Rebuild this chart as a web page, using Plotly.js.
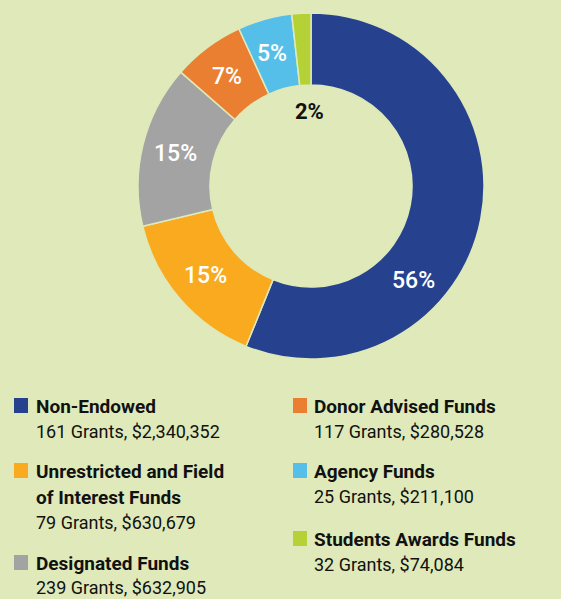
<!DOCTYPE html>
<html>
<head>
<meta charset="utf-8">
<script src="https://cdn.plot.ly/plotly-3.0.1.min.js"></script>
<style>
  html, body { margin: 0; padding: 0; background: #dfe9b9; }
  #chart { width: 561px; height: 599px; }
</style>
</head>
<body>
<div id="chart"></div>
<script>
const categories = ['Non-Endowed', 'Unrestricted and Field of Interest Funds', 'Designated Funds', 'Donor Advised Funds', 'Agency Funds', 'Students Awards Funds'];
const legendTitleLines = [['Non-Endowed'], ['Unrestricted and Field', 'of Interest Funds'], ['Designated Funds'], ['Donor Advised Funds'], ['Agency Funds'], ['Students Awards Funds']];
const grants = [161, 79, 239, 117, 25, 32];
const amounts = [2340352, 630679, 632905, 280528, 211100, 74084];
const pctLabels = ['56%', '15%', '15%', '7%', '5%', '2%'];
const colors = ['#26428f', '#f9aa1f', '#a3a3a3', '#ea7f31', '#56bfe9', '#b4d236'];

const W = 561, H = 599;
const bg = '#dfe9b9';
const px = x => x / W;
const py = y => 1 - y / H;

// donut geometry (pixels)
const cx = 311, cy = 186, R = 173, HOLE = 0.584;

const trace = {
  type: 'pie',
  labels: categories,
  values: amounts,
  textinfo: 'none',
  hole: HOLE,
  sort: false,
  direction: 'clockwise',
  rotation: 0,
  marker: { colors: colors, line: { color: bg, width: 1.5 } },
  domain: { x: [px(cx - R), px(cx + R)], y: [py(cy + R), py(cy - R)] },
  showlegend: false,
  hoverinfo: 'label+value+percent'
};

const annotations = [];
const shapes = [];

// percentage labels at the middle of each ring slice
const total = amounts.reduce((a, b) => a + b, 0);
let cum = 0;
const midR = R * (1 + HOLE) / 2;
amounts.forEach((v, i) => {
  const mid = (cum + v / 2) / total * 2 * Math.PI;
  cum += v;
  let lx = cx + midR * Math.sin(mid) - 2;
  let ly = cy - midR * Math.cos(mid);
  let color = '#ffffff', txt = pctLabels[i], size = 23, weight = 500;
  if (i === 0) { lx = 413; ly = 280; }           // large slice label sits lower in the reference
  if (i === amounts.length - 1) {                 // tiny slice label sits inside the hole
    lx = 309; ly = 111; color = '#111111'; txt = '<b>' + txt + '</b>'; weight = 700; size = 22;
  }
  annotations.push({ text: txt, x: px(lx), y: py(ly), xref: 'paper', yref: 'paper',
    xanchor: 'center', yanchor: 'middle', showarrow: false,
    font: { family: 'Roboto', size: size, color: color, weight: weight } });
});

// legend layout: two columns
const legendPos = [
  { col: 0, top: 398 }, { col: 0, top: 463 }, { col: 0, top: 555 },
  { col: 1, top: 398 }, { col: 1, top: 463 }, { col: 1, top: 531 }
];
const colSquareX = [14, 293];
const colTextX = [34, 312];
const lineGap = 26;

categories.forEach((c, i) => {
  const p = legendPos[i];
  const sx = colSquareX[p.col];
  shapes.push({ type: 'rect', xref: 'paper', yref: 'paper',
    x0: px(sx), x1: px(sx + 14), y0: py(p.top + 15), y1: py(p.top),
    fillcolor: colors[i], line: { width: 0 } });
  const lines = legendTitleLines[i];
  lines.forEach((ln, k) => {
    annotations.push({ text: '<b>' + ln + '</b>', x: px(colTextX[p.col]), y: py(p.top + 8 + k * lineGap),
      xref: 'paper', yref: 'paper', xanchor: 'left', yanchor: 'middle', showarrow: false,
      font: { family: 'Roboto', size: 19, color: '#111111' } });
  });
  const sub = grants[i] + ' Grants, $' + amounts[i].toLocaleString('en-US');
  let subY = p.top + 8 + lines.length * lineGap - 1;
  if (subY > 587) subY = 587;
  annotations.push({ text: sub, x: px(colTextX[p.col]), y: py(subY),
    xref: 'paper', yref: 'paper', xanchor: 'left', yanchor: 'middle', showarrow: false,
    font: { family: 'Roboto', size: 18, color: '#111111' } });
});

const layout = {
  width: W, height: H,
  margin: { l: 0, r: 0, t: 0, b: 0 },
  paper_bgcolor: bg, plot_bgcolor: bg,
  annotations: annotations,
  shapes: shapes,
  showlegend: false
};

Plotly.newPlot('chart', [trace], layout, { displayModeBar: false, staticPlot: true });
</script>
</body>
</html>
